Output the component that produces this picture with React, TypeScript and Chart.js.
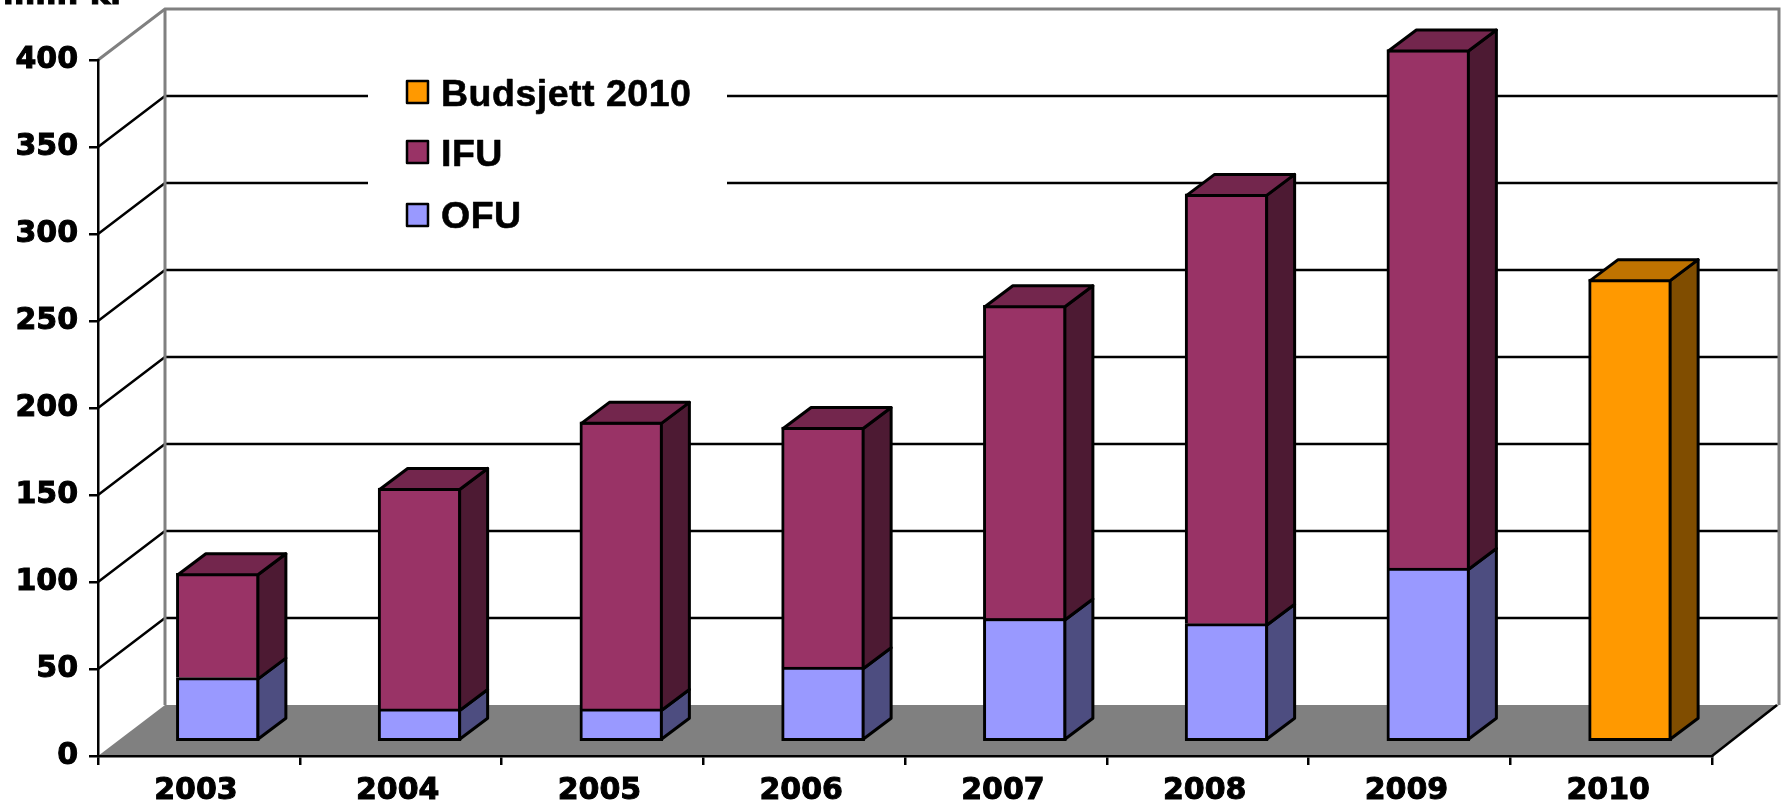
import React, { useEffect, useRef } from "react";
import { Chart, registerables } from "chart.js";

Chart.register(...registerables);

const years = ["2003", "2004", "2005", "2006", "2007", "2008", "2009", "2010"];
const ofu = [37, 19, 19, 43, 71, 68, 100, null];
const ifu = [60, 127, 165, 138, 180, 247, 298, null];
const budsjett = [null, null, null, null, null, null, null, 266];
const yTicks = [0, 50, 100, 150, 200, 250, 300, 350, 400];
const axisTitle = "mill. kr";

const WIDTH = 1785;
const HEIGHT = 803;
const BLACK = "#000000";
const GREY = "#808080";

// Depth of the whole plot box, and of one bar, in pixels.
const BOX_DX = 67;
const BOX_DY = 51;
const BAR_SHIFT_X = 19;
const BAR_SHIFT_Y = 14;
const BAR_DX = 28;
const BAR_DY = 21;
const BAR_LINE = 3;

const faces: Record<string, { front: string; side: string; top: string }> = {
  OFU: { front: "#9999FF", side: "#4D4D80", top: "#7373BF" },
  IFU: { front: "#993366", side: "#4D1A33", top: "#73264D" },
  "Budsjett 2010": { front: "#FF9900", side: "#804D00", top: "#BF7300" },
};

function line(ctx: CanvasRenderingContext2D, pts: number[][], color: string, width: number) {
  ctx.beginPath();
  pts.forEach((p, i) => (i ? ctx.lineTo(p[0], p[1]) : ctx.moveTo(p[0], p[1])));
  ctx.strokeStyle = color;
  ctx.lineWidth = width;
  ctx.stroke();
}

function poly(ctx: CanvasRenderingContext2D, pts: number[][], fill: string, stroke?: string, width = BAR_LINE) {
  ctx.beginPath();
  pts.forEach((p, i) => (i ? ctx.lineTo(p[0], p[1]) : ctx.moveTo(p[0], p[1])));
  ctx.closePath();
  ctx.fillStyle = fill;
  ctx.fill();
  if (stroke) {
    ctx.strokeStyle = stroke;
    ctx.lineWidth = width;
    ctx.lineJoin = "round";
    ctx.stroke();
  }
}

const boxPlugin = {
  id: "box3d",
  beforeDraw(chart: any) {
    const { ctx, chartArea: a, scales } = chart;
    const y = scales.y;
    const bottom = y.getPixelForValue(0);
    const top = y.getPixelForValue(400);
    const backL = a.left + BOX_DX;
    const backR = a.right + BOX_DX;
    ctx.save();
    ctx.fillStyle = "#FFFFFF";
    ctx.fillRect(0, 0, WIDTH, HEIGHT);

    yTicks.slice(1, -1).forEach((v) => {
      const py = y.getPixelForValue(v);
      line(ctx, [[a.left, py], [backL, py - BOX_DY], [backR, py - BOX_DY]], BLACK, 2.5);
    });

    // Clear the strip of the back wall that sits behind the legend.
    ctx.fillStyle = "#FFFFFF";
    ctx.fillRect(368, 64, 359, 176);

    line(ctx, [[a.left, top], [backL, top - BOX_DY], [backR, top - BOX_DY], [backR, bottom - BOX_DY]], GREY, 3);
    line(ctx, [[backL, top - BOX_DY], [backL, bottom - BOX_DY]], GREY, 3);

    poly(ctx, [[a.left, bottom], [backL, bottom - BOX_DY], [backR, bottom - BOX_DY], [a.right, bottom]], GREY);
    line(ctx, [[a.right, bottom], [backR - 2, bottom - BOX_DY]], BLACK, 2.5);

    ctx.font = 'bold 31px "DejaVu Sans"';
    ctx.fillStyle = BLACK;
    ctx.strokeStyle = BLACK;
    ctx.lineWidth = 1;
    ctx.textAlign = "left";
    ctx.textBaseline = "alphabetic";
    ctx.strokeText(axisTitle, 3, 4);
    ctx.fillText(axisTitle, 3, 4);

    const swatchY = [81, 141, 204];
    const textY = [106, 166, 228];
    ["Budsjett 2010", "IFU", "OFU"].forEach((name, i) => {
      poly(ctx, [[407, swatchY[i]], [428, swatchY[i]], [428, swatchY[i] + 22], [407, swatchY[i] + 22]], faces[name].front, BLACK, 2.5);
      ctx.font = 'bold 37.5px "Liberation Sans"';
      (ctx as any).letterSpacing = "0.5px";
      ctx.fillStyle = BLACK;
      ctx.strokeStyle = BLACK;
      ctx.lineWidth = 0.6;
      ctx.strokeText(name, 441, textY[i]);
      ctx.fillText(name, 441, textY[i]);
      (ctx as any).letterSpacing = "0px";
    });
    ctx.restore();
  },
  beforeDatasetsDraw(chart: any) {
    chart.ctx.save();
    chart.ctx.translate(BAR_SHIFT_X, -BAR_SHIFT_Y);
  },
  afterDatasetsDraw(chart: any) {
    const ctx = chart.ctx;
    const inset = BAR_LINE / 2;
    const lastDs = years.map((_, i) => {
      let last = -1;
      chart.data.datasets.forEach((d: any, k: number) => {
        if (d.data[i] != null) last = k;
      });
      return last;
    });
    chart.data.datasets.forEach((d: any, k: number) => {
      const c = faces[d.label];
      chart.getDatasetMeta(k).data.forEach((el: any, i: number) => {
        if (d.data[i] == null) return;
        const { x, y, base, width } = el.getProps(["x", "y", "base", "width"]);
        const l = x - width / 2 + inset;
        const r = x + width / 2 - inset;
        const t = y + inset;
        const b = k === 1 ? base + inset : base - inset;
        poly(ctx, [[r, t], [r + BAR_DX, t - BAR_DY], [r + BAR_DX, b - BAR_DY], [r, b]], c.side, BLACK);
        if (lastDs[i] === k) {
          poly(ctx, [[l, t], [l + BAR_DX, t - BAR_DY], [r + BAR_DX, t - BAR_DY], [r, t]], c.top, BLACK);
        }
      });
    });
    ctx.restore();
  },
};

export default function App() {
  const ref = useRef<HTMLCanvasElement>(null);
  useEffect(() => {
    document.body.style.margin = "0";
    const dataset = (label: string, data: (number | null)[], skip: any) => ({
      label,
      data,
      backgroundColor: faces[label].front,
      borderColor: BLACK,
      borderWidth: BAR_LINE,
      borderSkipped: skip,
      barThickness: 83,
      clip: false as any,
    });
    const tickFont = { family: '"DejaVu Sans"', weight: "bold", size: 30 };
    const chart = new Chart(ref.current as HTMLCanvasElement, {
      type: "bar",
      data: {
        labels: years,
        datasets: [
          dataset("OFU", ofu, false),
          dataset("IFU", ifu, "start"),
          dataset("Budsjett 2010", budsjett, false),
        ],
      },
      plugins: [boxPlugin],
      options: {
        animation: false,
        responsive: false,
        layout: { padding: { top: 60, right: 73, left: 0, bottom: 0 } },
        plugins: { legend: { display: false }, title: { display: false }, tooltip: { enabled: false } },
        scales: {
          x: {
            stacked: true,
            afterFit: (s: any) => { s.height = 47; },
            grid: { drawOnChartArea: false, drawTicks: true, tickLength: 9, color: BLACK, lineWidth: 2.5 },
            border: { color: BLACK, width: 2.5 },
            ticks: {
              color: BLACK,
              padding: 8,
              labelOffset: -3,
              maxRotation: 0,
              textStrokeColor: BLACK,
              textStrokeWidth: 1,
              font: tickFont,
            },
          },
          y: {
            stacked: true,
            min: 0,
            max: 400,
            afterFit: (s: any) => { s.width = 98; },
            afterBuildTicks: (s: any) => { s.ticks = yTicks.map((value) => ({ value })); },
            grid: { drawOnChartArea: false, drawTicks: true, tickLength: 9, color: BLACK, lineWidth: 2.5 },
            border: { color: BLACK, width: 2.5 },
            ticks: {
              color: BLACK,
              padding: 11,
              textStrokeColor: BLACK,
              textStrokeWidth: 1,
              font: tickFont,
            },
          },
        },
      },
    });
    return () => chart.destroy();
  }, []);
  return <canvas ref={ref} width={WIDTH} height={HEIGHT} style={{ display: "block" }} />;
}
